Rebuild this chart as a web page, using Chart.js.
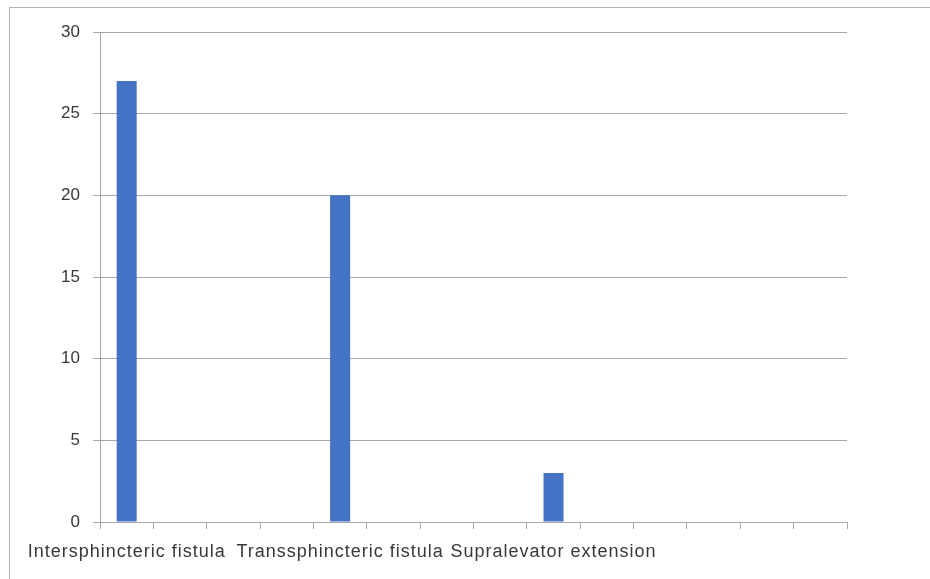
<!DOCTYPE html>
<html>
<head>
<meta charset="utf-8">
<script src="https://cdn.jsdelivr.net/npm/chart.js@4"></script>
<style>
  html, body { margin: 0; padding: 0; background: #fff; }
  #wrap { position: relative; width: 930px; height: 579px; overflow: hidden; }
  #frame { position: absolute; left: 9px; top: 7px; width: 1000px; height: 1000px; border: 1px solid #b4b4b4; }
  #chart { position: absolute; left: 0; top: 0; }
</style>
</head>
<body>
<div id="wrap">
  <div id="frame"></div>
  <canvas id="chart" width="930" height="579"></canvas>
</div>
<script>
/******************************************************
 * DATA
 ******************************************************/
const categories = [
  "Intersphincteric fistula", "", "", "",
  "Transsphincteric fistula", "", "", "",
  "Supralevator extension", "", "", "", "", ""
];
const counts = [27, null, null, null, 20, null, null, null, 3, null, null, null, null, null];
const yTicks = [0, 5, 10, 15, 20, 25, 30];

/******************************************************
 * STYLE
 ******************************************************/
const GRID = "#a8a8a8";
const TEXT = "#383838";
const FONT = "'Liberation Sans', sans-serif";

// wrap the x scale draw so only its labels get the stretched spacing
function spaceLabels(scale) {
  if (scale._spaced) return;
  scale._spaced = true;
  const orig = scale.draw;
  scale.draw = function (area) {
    this.ctx.letterSpacing = "1px";
    orig.call(this, area);
    this.ctx.letterSpacing = "0px";
  };
}

/******************************************************
 * CHART
 ******************************************************/
const ctx = document.getElementById("chart").getContext("2d");
new Chart(ctx, {
  type: "bar",
  data: {
    labels: categories,
    datasets: [{
      data: counts,
      backgroundColor: "#4472C4",
      categoryPercentage: 1,
      barPercentage: 0.375
    }]
  },
  options: {
    responsive: false,
    animation: false,
    layout: { padding: { left: 0, right: 83, top: 32, bottom: 0 } },
    plugins: {
      legend: { display: false },
      tooltip: { enabled: false }
    },
    scales: {
      x: {
        grid: {
          offset: true,
          drawOnChartArea: false,
          drawTicks: true,
          tickLength: 7,
          color: GRID
        },
        border: { color: GRID },
        ticks: {
          autoSkip: false,
          maxRotation: 0,
          minRotation: 0,
          padding: 12,
          color: TEXT,
          font: { family: FONT, size: 18 }
        },
        afterFit: s => { s.height = 57; spaceLabels(s); }
      },
      y: {
        min: 0,
        max: 30,
        afterBuildTicks: s => { s.ticks = yTicks.map(v => ({ value: v })); },
        grid: { color: GRID, tickLength: 7 },
        border: { color: GRID },
        ticks: {
          padding: 13,
          color: TEXT,
          font: { family: FONT, size: 17 }
        },
        afterFit: s => { s.width = 100; }
      }
    }
  }
});
</script>
</body>
</html>
